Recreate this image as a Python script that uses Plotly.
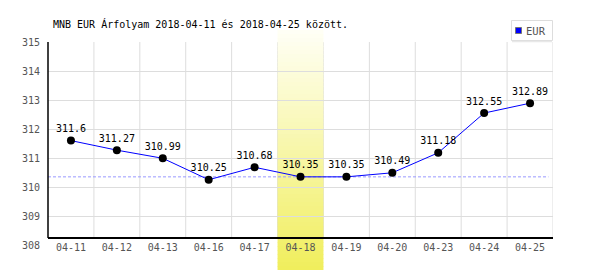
import plotly.graph_objects as go

# ---- data ----
dates = ["04-11", "04-12", "04-13", "04-16", "04-17", "04-18",
         "04-19", "04-20", "04-23", "04-24", "04-25"]
rates = [311.6, 311.27, 310.99, 310.25, 310.68, 310.35,
         310.35, 310.49, 311.18, 312.55, 312.89]
labels = [f"{v:g}" for v in rates]
highlight_date = "04-18"
reference_rate = 310.35
y_min, y_max = 308, 315
series_name = "EUR"
series_color = "#0000ff"
title_text = "MNB EUR Árfolyam 2018-04-11 és 2018-04-25 között."

# ---- layout geometry (pixels) ----
W, H = 600, 270
L, R, T, B = 48, 47, 42, 25
plot_w = W - L - R
plot_h = H - T - B
axis_px = 238  # pixel row of the black x axis line


def py(pix):
    """pixel row -> paper y"""
    return (H - B - pix) / plot_h


def px(pix):
    """pixel column -> paper x"""
    return (pix - L) / plot_w


MONO = "DejaVu Sans Mono, monospace"
FS = 10

fig = go.Figure()

fig.add_trace(go.Scatter(
    x=dates, y=rates, mode="lines+markers+text", name=series_name,
    text=labels, textposition="top center",
    textfont=dict(family=MONO, size=FS, color="#000"),
    line=dict(color=series_color, width=1),
    marker=dict(color="#000", size=8),
    showlegend=False, cliponaxis=False, hoverinfo="skip",
))

shapes = []
# vertical grid lines at category boundaries
for i in range(len(dates)):
    shapes.append(dict(type="line", xref="x", yref="paper",
                       x0=i + 0.5, x1=i + 0.5, y0=py(axis_px), y1=1,
                       line=dict(color="#dddddd", width=1), layer="between"))
# highlighted column gradient
hi = dates.index(highlight_date)
top_px, bot_px = 30, 270
n = 60
c0 = (255, 255, 246)
c1 = (240, 238, 92)
step = (bot_px - top_px) / n
for k in range(n):
    t = (k + 0.5) / n
    col = tuple(round(c0[j] + (c1[j] - c0[j]) * t) for j in range(3))
    shapes.append(dict(type="rect", xref="x", yref="paper",
                       x0=hi - 0.5, x1=hi + 0.5,
                       y0=py(top_px + (k + 1) * step + 0.5), y1=py(top_px + k * step),
                       fillcolor="rgb(%d,%d,%d)" % col, line=dict(width=0),
                       layer="between"))
# reference dashed line
shapes.append(dict(type="line", xref="x", yref="y",
                   x0=-0.5, x1=len(dates) - 0.5 - 0.1,
                   y0=reference_rate, y1=reference_rate,
                   line=dict(color="#9999ff", width=1, dash="3px,2px"),
                   layer="between"))
# left axis line
shapes.append(dict(type="line", xref="paper", yref="paper",
                   x0=0, x1=0, y0=py(axis_px), y1=1,
                   line=dict(color="#000", width=1.5), layer="above"))
# legend box + swatch
shapes.append(dict(type="rect", xref="paper", yref="paper",
                   x0=px(511.5), x1=px(552.5), y0=py(40.5), y1=py(20.5),
                   fillcolor="#fff", line=dict(color="#dddddd", width=1),
                   layer="above"))
shapes.append(dict(type="line", xref="paper", yref="paper",
                   x0=px(512), x1=px(552), y0=py(41.5), y1=py(41.5),
                   line=dict(color="#e8e8e8", width=1.5), layer="above"))
shapes.append(dict(type="rect", xref="paper", yref="paper",
                   x0=px(515.5), x1=px(521.5), y0=py(33.5), y1=py(27.5),
                   fillcolor=series_color, line=dict(color="#777", width=1),
                   layer="above"))

annotations = [dict(text=series_name, xref="paper", yref="paper",
                    x=px(524), xanchor="left", y=py(31), yanchor="middle",
                    showarrow=False,
                    font=dict(family=MONO, size=FS + 0.5, color="#555"))]

fig.update_layout(
    width=W, height=H,
    margin=dict(l=L, r=R, t=T, b=B, autoexpand=False),
    paper_bgcolor="#fff", plot_bgcolor="rgba(0,0,0,0)",
    title=dict(text=title_text, x=53 / W, xanchor="left",
               y=1 - 24 / H, yanchor="middle",
               font=dict(family=MONO, size=FS, color="#000")),
    shapes=shapes,
    annotations=annotations,
    showlegend=False,
    xaxis=dict(type="category", categoryorder="array", categoryarray=dates,
               range=[-0.5, len(dates) - 0.5],
               anchor="free", position=py(axis_px),
               showgrid=False, zeroline=False,
               showline=True, linecolor="#000", linewidth=1.5,
               ticks="", tickfont=dict(family=MONO, size=FS, color="#555")),
    yaxis=dict(range=[y_min, y_max], dtick=1,
               showgrid=True, gridcolor="#dddddd", gridwidth=1,
               zeroline=False, showline=False,
               ticks="outside", ticklen=5, tickcolor="rgba(0,0,0,0)",
               tickfont=dict(family=MONO, size=FS, color="#555")),
)

fig.write_html("out.html")
